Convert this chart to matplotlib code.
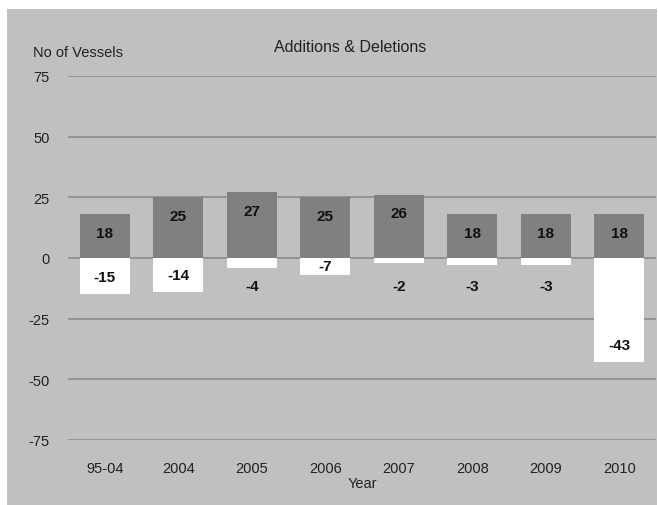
import matplotlib
matplotlib.use("Agg")
import matplotlib.pyplot as plt
from matplotlib.patches import Rectangle

years = ["95-04", "2004", "2005", "2006", "2007", "2008", "2009", "2010"]
additions = [18, 25, 27, 25, 26, 18, 18, 18]
deletions = [-15, -14, -4, -7, -2, -3, -3, -43]
yticks = [-75, -50, -25, 0, 25, 50, 75]

plt.rcParams["font.family"] = ["Liberation Sans", "DejaVu Sans"]

W, H = 658, 506
fig = plt.figure(figsize=(W / 100, H / 100), dpi=100, facecolor="white")

# gray chart panel behind everything
fig.patches.append(Rectangle((7 / W, 0), (W - 8) / W, (H - 10) / H,
                             transform=fig.transFigure, facecolor="#c0c0c0",
                             edgecolor="none", zorder=-5))

ax = fig.add_axes([68 / W, (H - 441) / H, (656 - 68) / W, (441 - 77) / H])
ax.set_facecolor("none")

x = range(len(years))
ax.bar(x, additions, width=0.68, color="#808080", zorder=3)
ax.bar(x, deletions, width=0.68, color="white", zorder=3)

for i, v in enumerate(additions):
    ax.text(i, v - 7.5, str(v), ha="center", va="center",
            fontsize=11, fontweight="bold", color="#111111", zorder=4)
for i, v in enumerate(deletions):
    ypos = -11.5 if abs(v) < 5 else min(v / 2, v + 7)
    ax.text(i, ypos, str(v), ha="center", va="center",
            fontsize=11, fontweight="bold", color="#111111", zorder=4)

ax.set_xlim(-0.5, len(years) - 0.5)
ax.set_ylim(-75, 75)
ax.set_yticks(yticks)
ax.set_yticklabels([str(t) for t in yticks])
ax.set_xticks(list(x))
ax.set_xticklabels(years)
ax.yaxis.grid(True, color="#8c8c8c", linewidth=1.2, zorder=1)
ax.set_axisbelow(True)
for s in ax.spines.values():
    s.set_visible(False)
ax.tick_params(axis="both", length=0, labelsize=10.5, colors="#222222")
ax.tick_params(axis="y", pad=13)
ax.tick_params(axis="x", pad=15)

ax.set_xlabel("Year", fontsize=10.5, color="#222222", labelpad=1)
fig.text(33 / W, 1 - 53 / H, "No of Vessels", fontsize=10.5, color="#222222",
         va="center", ha="left")
fig.text(350 / W, 1 - 47 / H, "Additions & Deletions", fontsize=11.5,
         color="#222222", va="center", ha="center")

fig.savefig("out.png", dpi=100, facecolor="white")
